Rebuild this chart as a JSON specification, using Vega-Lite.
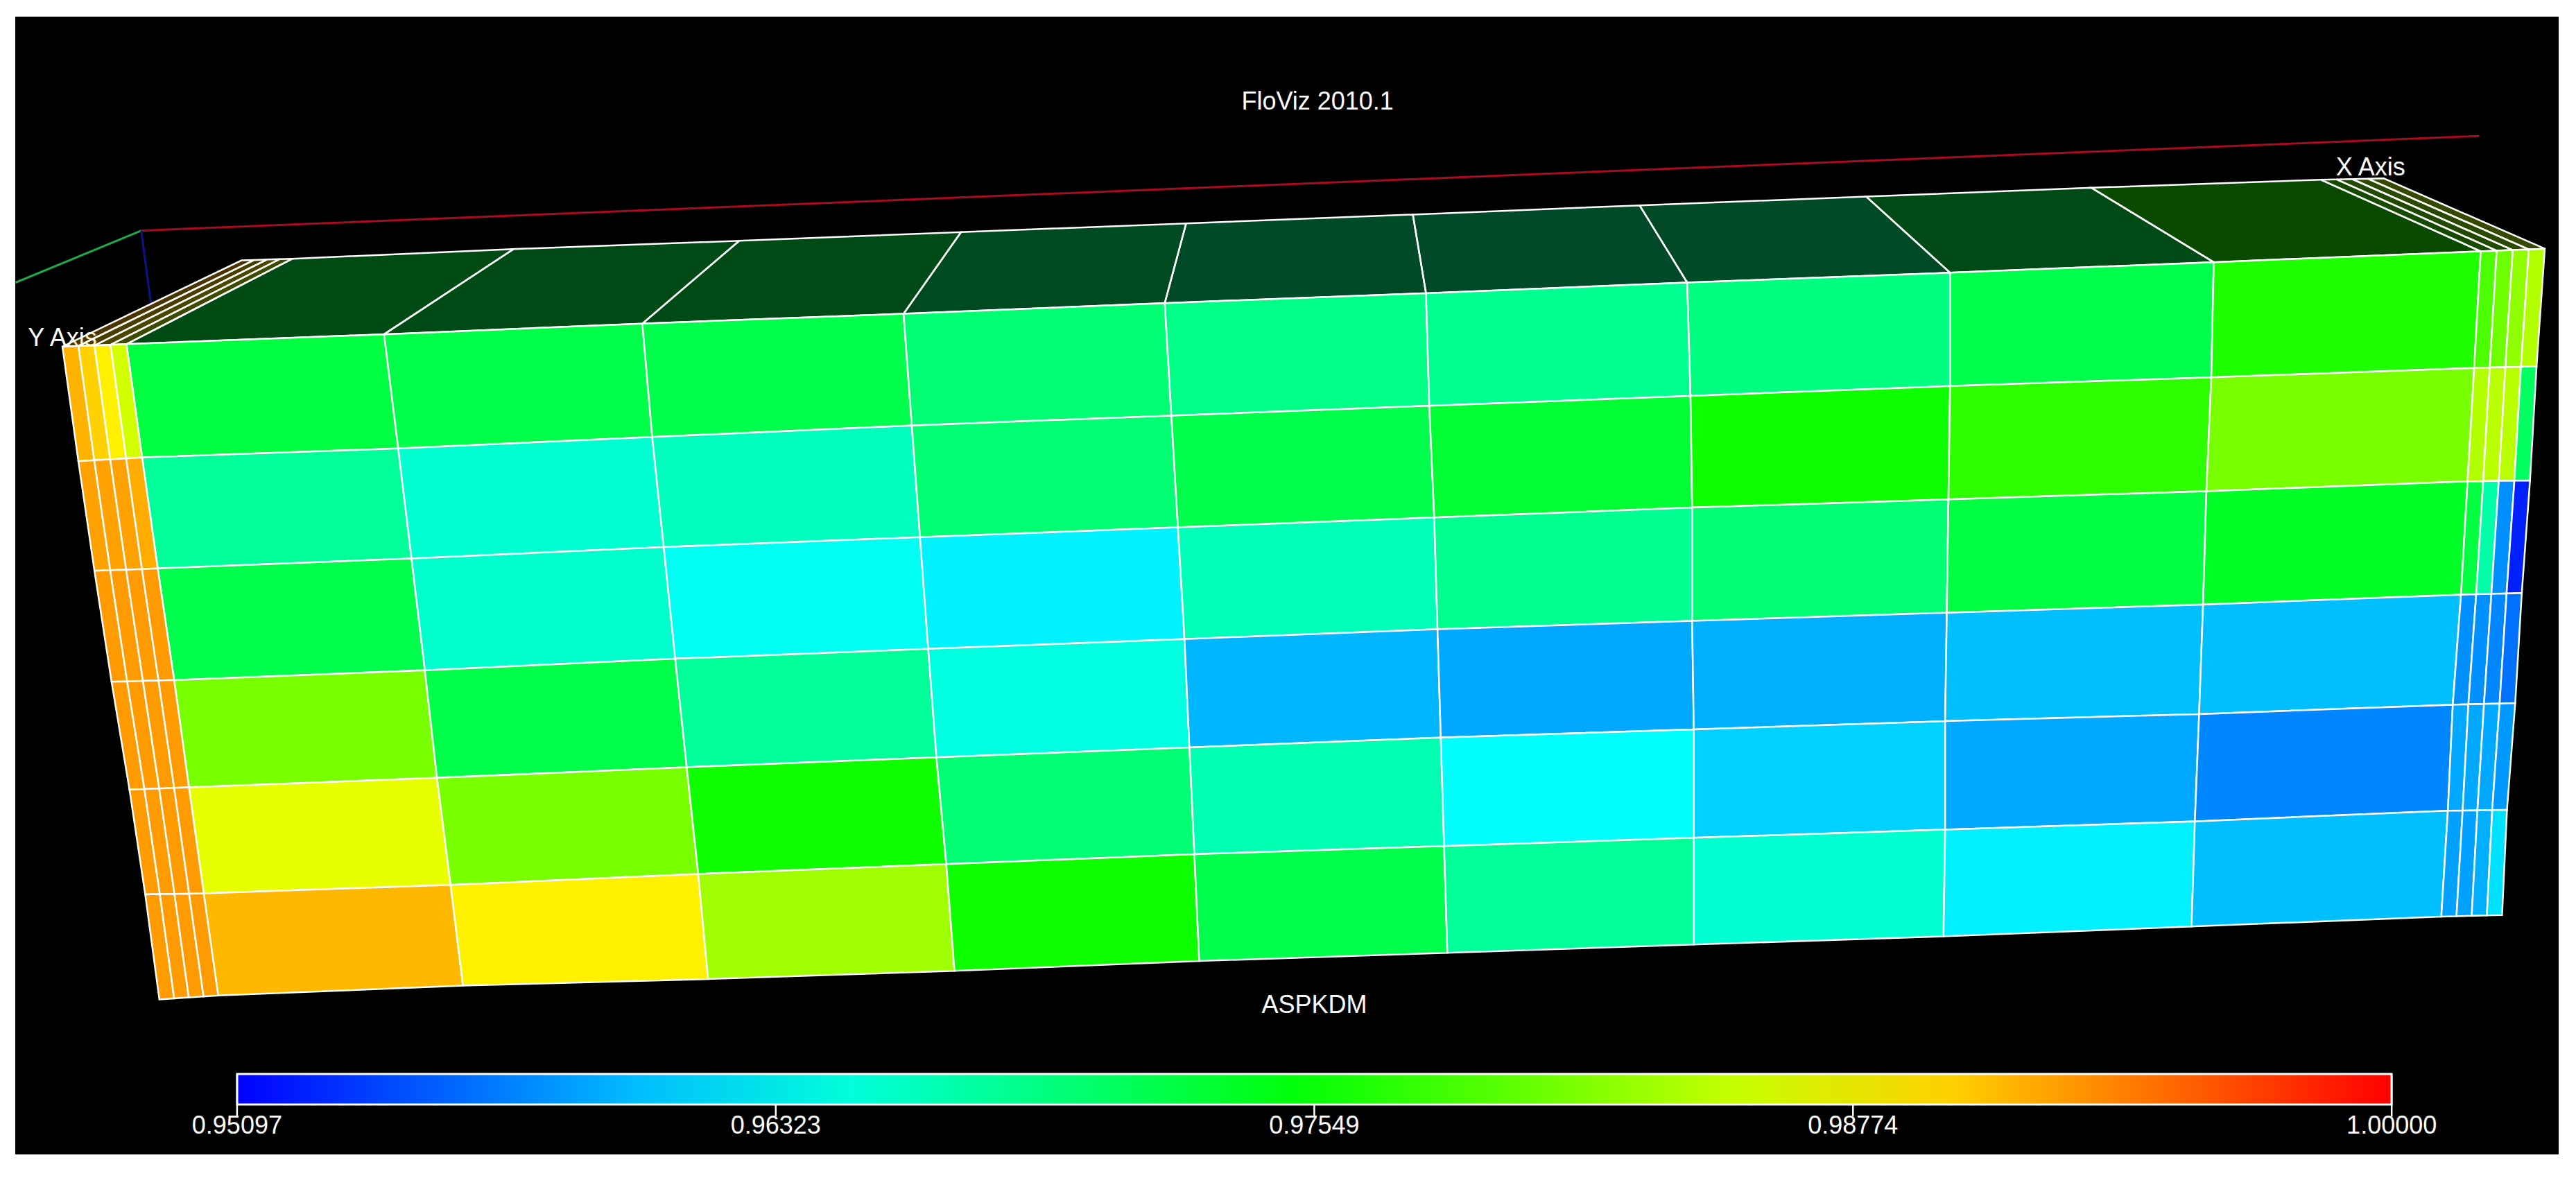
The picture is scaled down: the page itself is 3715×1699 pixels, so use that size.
{
"$schema":"https://vega.github.io/schema/vega-lite/v6.json",
"background":"white",
"width":3668,"height":1641,
"autosize":"none",
"padding":{"left":22,"top":24,"right":25,"bottom":34},
"view":{"fill":"#000000","stroke":null},
"config":{"legend":{"padding":0}},
"projection":{"type":"identity","scale":2.36926,"translate":[-22,-24]},
"datasets":{
"axes":[
{"type":"Feature","axis":"x","geometry":{"type":"LineString","coordinates":[[86,140.4],[1509,82.8]]}},
{"type":"Feature","axis":"y","geometry":{"type":"LineString","coordinates":[[9.5,172],[86,140.4]]}},
{"type":"Feature","axis":"z","geometry":{"type":"LineString","coordinates":[[86,140.4],[92,186]]}}
],
"labels":[
{"label":"FloViz 2010.1","x":802,"y":62},
{"label":"X Axis","x":1443,"y":102},
{"label":"Y Axis","x":38,"y":206},
{"label":"ASPKDM","x":800,"y":612},
{"label":"0.95097","x":144.3,"y":685.5},
{"label":"0.96323","x":472.2,"y":685.5},
{"label":"0.97549","x":800,"y":685.5},
{"label":"0.98774","x":1127.9,"y":685.5},
{"label":"1.00000","x":1455.8,"y":685.5}
],
"ticks":[
{"type":"Feature","value":0.95097,"geometry":{"type":"LineString","coordinates":[[144.3,653.8],[144.3,679.6]]}},
{"type":"Feature","value":0.96323,"geometry":{"type":"LineString","coordinates":[[472.2,653.8],[472.2,679.6]]}},
{"type":"Feature","value":0.97549,"geometry":{"type":"LineString","coordinates":[[800,653.8],[800,679.6]]}},
{"type":"Feature","value":0.98774,"geometry":{"type":"LineString","coordinates":[[1127.9,653.8],[1127.9,679.6]]}},
{"type":"Feature","value":1.0,"geometry":{"type":"LineString","coordinates":[[1455.8,653.8],[1455.8,679.6]]}}
],
"top":[
{"type":"Feature","value":0.99142,"geometry":{"type":"Polygon","coordinates":[[[147,158.5],[154.75,158.25],[47.75,210.6],[38,211],[147,158.5]]]}},
{"type":"Feature","value":0.98995,"geometry":{"type":"Polygon","coordinates":[[[154.75,158.25],[162.5,158],[57.5,210.3],[47.75,210.6],[154.75,158.25]]]}},
{"type":"Feature","value":0.98848,"geometry":{"type":"Polygon","coordinates":[[[162.5,158],[170.25,157.75],[67.25,209.9],[57.5,210.3],[162.5,158]]]}},
{"type":"Feature","value":0.98554,"geometry":{"type":"Polygon","coordinates":[[[170.25,157.75],[178,157.5],[77,209.5],[67.25,209.9],[170.25,157.75]]]}},
{"type":"Feature","value":0.97242,"geometry":{"type":"Polygon","coordinates":[[[178,157.5],[312.6,151.6],[233.8,203.5],[77,209.5],[178,157.5]]]}},
{"type":"Feature","value":0.97205,"geometry":{"type":"Polygon","coordinates":[[[312.6,151.6],[450,146.6],[391,197],[233.8,203.5],[312.6,151.6]]]}},
{"type":"Feature","value":0.97181,"geometry":{"type":"Polygon","coordinates":[[[450,146.6],[585,141.3],[550,191],[391,197],[450,146.6]]]}},
{"type":"Feature","value":0.96997,"geometry":{"type":"Polygon","coordinates":[[[585,141.3],[722,136],[709,184.5],[550,191],[585,141.3]]]}},
{"type":"Feature","value":0.96899,"geometry":{"type":"Polygon","coordinates":[[[722,136],[860,130.6],[868,178.5],[709,184.5],[722,136]]]}},
{"type":"Feature","value":0.9685,"geometry":{"type":"Polygon","coordinates":[[[860,130.6],[998,125],[1027,172],[868,178.5],[860,130.6]]]}},
{"type":"Feature","value":0.96936,"geometry":{"type":"Polygon","coordinates":[[[998,125],[1136,119.7],[1187,166],[1027,172],[998,125]]]}},
{"type":"Feature","value":0.97181,"geometry":{"type":"Polygon","coordinates":[[[1136,119.7],[1273,114.3],[1347.5,159.6],[1187,166],[1136,119.7]]]}},
{"type":"Feature","value":0.97695,"geometry":{"type":"Polygon","coordinates":[[[1273,114.3],[1412.6,109.4],[1510,153],[1347.5,159.6],[1273,114.3]]]}},
{"type":"Feature","value":0.97916,"geometry":{"type":"Polygon","coordinates":[[[1412.6,109.4],[1422.2,109.2],[1519.75,152.6],[1510,153],[1412.6,109.4]]]}},
{"type":"Feature","value":0.98075,"geometry":{"type":"Polygon","coordinates":[[[1422.2,109.2],[1431.8,109],[1529.5,152.2],[1519.75,152.6],[1422.2,109.2]]]}},
{"type":"Feature","value":0.98235,"geometry":{"type":"Polygon","coordinates":[[[1431.8,109],[1441.4,108.8],[1539.25,151.8],[1529.5,152.2],[1431.8,109]]]}},
{"type":"Feature","value":0.98406,"geometry":{"type":"Polygon","coordinates":[[[1441.4,108.8],[1451,108.6],[1549,151.4],[1539.25,151.8],[1441.4,108.8]]]}}
],
"faces":[
{"type":"Feature","value":0.97242,"geometry":{"type":"Polygon","coordinates":[[[77,209.5],[233.8,203.5],[242.4,273],[86.5,278.5],[77,209.5]]]}},
{"type":"Feature","value":0.97205,"geometry":{"type":"Polygon","coordinates":[[[233.8,203.5],[391,197],[397,266],[242.4,273],[233.8,203.5]]]}},
{"type":"Feature","value":0.97181,"geometry":{"type":"Polygon","coordinates":[[[391,197],[550,191],[555,259],[397,266],[391,197]]]}},
{"type":"Feature","value":0.96997,"geometry":{"type":"Polygon","coordinates":[[[550,191],[709,184.5],[713,253],[555,259],[550,191]]]}},
{"type":"Feature","value":0.96899,"geometry":{"type":"Polygon","coordinates":[[[709,184.5],[868,178.5],[870,247],[713,253],[709,184.5]]]}},
{"type":"Feature","value":0.9685,"geometry":{"type":"Polygon","coordinates":[[[868,178.5],[1027,172],[1029,241],[870,247],[868,178.5]]]}},
{"type":"Feature","value":0.96936,"geometry":{"type":"Polygon","coordinates":[[[1027,172],[1187,166],[1187,235],[1029,241],[1027,172]]]}},
{"type":"Feature","value":0.97181,"geometry":{"type":"Polygon","coordinates":[[[1187,166],[1347.5,159.6],[1346,229.7],[1187,235],[1187,166]]]}},
{"type":"Feature","value":0.97695,"geometry":{"type":"Polygon","coordinates":[[[1347.5,159.6],[1510,153],[1506,224],[1346,229.7],[1347.5,159.6]]]}},
{"type":"Feature","value":0.96813,"geometry":{"type":"Polygon","coordinates":[[[86.5,278.5],[242.4,273],[250.5,340],[96,346],[86.5,278.5]]]}},
{"type":"Feature","value":0.96543,"geometry":{"type":"Polygon","coordinates":[[[242.4,273],[397,266],[404,333],[250.5,340],[242.4,273]]]}},
{"type":"Feature","value":0.96629,"geometry":{"type":"Polygon","coordinates":[[[397,266],[555,259],[560,327],[404,333],[397,266]]]}},
{"type":"Feature","value":0.96997,"geometry":{"type":"Polygon","coordinates":[[[555,259],[713,253],[717,321],[560,327],[555,259]]]}},
{"type":"Feature","value":0.97181,"geometry":{"type":"Polygon","coordinates":[[[713,253],[870,247],[873,315],[717,321],[713,253]]]}},
{"type":"Feature","value":0.97303,"geometry":{"type":"Polygon","coordinates":[[[870,247],[1029,241],[1030,309],[873,315],[870,247]]]}},
{"type":"Feature","value":0.9761,"geometry":{"type":"Polygon","coordinates":[[[1029,241],[1187,235],[1186,304],[1030,309],[1029,241]]]}},
{"type":"Feature","value":0.97769,"geometry":{"type":"Polygon","coordinates":[[[1187,235],[1346,229.7],[1343,299],[1186,304],[1187,235]]]}},
{"type":"Feature","value":0.98124,"geometry":{"type":"Polygon","coordinates":[[[1346,229.7],[1506,224],[1502,293],[1343,299],[1346,229.7]]]}},
{"type":"Feature","value":0.97181,"geometry":{"type":"Polygon","coordinates":[[[96,346],[250.5,340],[258.6,408],[106,414],[96,346]]]}},
{"type":"Feature","value":0.96568,"geometry":{"type":"Polygon","coordinates":[[[250.5,340],[404,333],[411,401],[258.6,408],[250.5,340]]]}},
{"type":"Feature","value":0.96384,"geometry":{"type":"Polygon","coordinates":[[[404,333],[560,327],[565,395],[411,401],[404,333]]]}},
{"type":"Feature","value":0.96261,"geometry":{"type":"Polygon","coordinates":[[[560,327],[717,321],[721,389],[565,395],[560,327]]]}},
{"type":"Feature","value":0.96666,"geometry":{"type":"Polygon","coordinates":[[[717,321],[873,315],[875,383],[721,389],[717,321]]]}},
{"type":"Feature","value":0.9685,"geometry":{"type":"Polygon","coordinates":[[[873,315],[1030,309],[1030,378],[875,383],[873,315]]]}},
{"type":"Feature","value":0.96997,"geometry":{"type":"Polygon","coordinates":[[[1030,309],[1186,304],[1185,373],[1030,378],[1030,309]]]}},
{"type":"Feature","value":0.97242,"geometry":{"type":"Polygon","coordinates":[[[1186,304],[1343,299],[1341,368],[1185,373],[1186,304]]]}},
{"type":"Feature","value":0.97365,"geometry":{"type":"Polygon","coordinates":[[[1343,299],[1502,293],[1498,362],[1341,368],[1343,299]]]}},
{"type":"Feature","value":0.98124,"geometry":{"type":"Polygon","coordinates":[[[106,414],[258.6,408],[266,473.5],[115,479.3],[106,414]]]}},
{"type":"Feature","value":0.97205,"geometry":{"type":"Polygon","coordinates":[[[258.6,408],[411,401],[418,467],[266,473.5],[258.6,408]]]}},
{"type":"Feature","value":0.96813,"geometry":{"type":"Polygon","coordinates":[[[411,401],[565,395],[570,461],[418,467],[411,401]]]}},
{"type":"Feature","value":0.9647,"geometry":{"type":"Polygon","coordinates":[[[565,395],[721,389],[724,455],[570,461],[565,395]]]}},
{"type":"Feature","value":0.95979,"geometry":{"type":"Polygon","coordinates":[[[721,389],[875,383],[877,449],[724,455],[721,389]]]}},
{"type":"Feature","value":0.95906,"geometry":{"type":"Polygon","coordinates":[[[875,383],[1030,378],[1031,444],[877,449],[875,383]]]}},
{"type":"Feature","value":0.95943,"geometry":{"type":"Polygon","coordinates":[[[1030,378],[1185,373],[1184,439],[1031,444],[1030,378]]]}},
{"type":"Feature","value":0.96016,"geometry":{"type":"Polygon","coordinates":[[[1185,373],[1341,368],[1338.6,434.7],[1184,439],[1185,373]]]}},
{"type":"Feature","value":0.96016,"geometry":{"type":"Polygon","coordinates":[[[1341,368],[1498,362],[1493,429],[1338.6,434.7],[1341,368]]]}},
{"type":"Feature","value":0.98664,"geometry":{"type":"Polygon","coordinates":[[[115,479.3],[266,473.5],[274.3,538.7],[124,543.8],[115,479.3]]]}},
{"type":"Feature","value":0.98124,"geometry":{"type":"Polygon","coordinates":[[[266,473.5],[418,467],[425,532],[274.3,538.7],[266,473.5]]]}},
{"type":"Feature","value":0.97622,"geometry":{"type":"Polygon","coordinates":[[[418,467],[570,461],[576,526],[425,532],[418,467]]]}},
{"type":"Feature","value":0.96997,"geometry":{"type":"Polygon","coordinates":[[[570,461],[724,455],[727,520],[576,526],[570,461]]]}},
{"type":"Feature","value":0.96703,"geometry":{"type":"Polygon","coordinates":[[[724,455],[877,449],[879,515],[727,520],[724,455]]]}},
{"type":"Feature","value":0.96323,"geometry":{"type":"Polygon","coordinates":[[[877,449],[1031,444],[1031,510],[879,515],[877,449]]]}},
{"type":"Feature","value":0.96102,"geometry":{"type":"Polygon","coordinates":[[[1031,444],[1184,439],[1184,505],[1031,510],[1031,444]]]}},
{"type":"Feature","value":0.95906,"geometry":{"type":"Polygon","coordinates":[[[1184,439],[1338.6,434.7],[1336,500],[1184,505],[1184,439]]]}},
{"type":"Feature","value":0.95747,"geometry":{"type":"Polygon","coordinates":[[[1338.6,434.7],[1493,429],[1490,493.5],[1336,500],[1338.6,434.7]]]}},
{"type":"Feature","value":0.99117,"geometry":{"type":"Polygon","coordinates":[[[124,543.8],[274.3,538.7],[281.8,600],[132.8,606],[124,543.8]]]}},
{"type":"Feature","value":0.98848,"geometry":{"type":"Polygon","coordinates":[[[274.3,538.7],[425,532],[431,596],[281.8,600],[274.3,538.7]]]}},
{"type":"Feature","value":0.9832,"geometry":{"type":"Polygon","coordinates":[[[425,532],[576,526],[581,591],[431,596],[425,532]]]}},
{"type":"Feature","value":0.9761,"geometry":{"type":"Polygon","coordinates":[[[576,526],[727,520],[730,585],[581,591],[576,526]]]}},
{"type":"Feature","value":0.97181,"geometry":{"type":"Polygon","coordinates":[[[727,520],[879,515],[881,580],[730,585],[727,520]]]}},
{"type":"Feature","value":0.96813,"geometry":{"type":"Polygon","coordinates":[[[879,515],[1031,510],[1031,575],[881,580],[879,515]]]}},
{"type":"Feature","value":0.96543,"geometry":{"type":"Polygon","coordinates":[[[1031,510],[1184,505],[1183,570],[1031,575],[1031,510]]]}},
{"type":"Feature","value":0.96249,"geometry":{"type":"Polygon","coordinates":[[[1184,505],[1336,500],[1334,564],[1183,570],[1184,505]]]}},
{"type":"Feature","value":0.96016,"geometry":{"type":"Polygon","coordinates":[[[1336,500],[1490,493.5],[1486,558],[1334,564],[1336,500]]]}},

{"type":"Feature","value":0.99142,"geometry":{"type":"Polygon","coordinates":[[[38,211],[47.75,210.6],[57.4,280.2],[47.7,280.8],[38,211]]]}},
{"type":"Feature","value":0.98995,"geometry":{"type":"Polygon","coordinates":[[[47.75,210.6],[57.5,210.3],[67.1,279.6],[57.4,280.2],[47.75,210.6]]]}},
{"type":"Feature","value":0.98848,"geometry":{"type":"Polygon","coordinates":[[[57.5,210.3],[67.25,209.9],[76.8,279.1],[67.1,279.6],[57.5,210.3]]]}},
{"type":"Feature","value":0.98554,"geometry":{"type":"Polygon","coordinates":[[[67.25,209.9],[77,209.5],[86.5,278.5],[76.8,279.1],[67.25,209.9]]]}},
{"type":"Feature","value":0.99228,"geometry":{"type":"Polygon","coordinates":[[[47.7,280.8],[57.4,280.2],[67.1,347.1],[57.5,347.5],[47.7,280.8]]]}},
{"type":"Feature","value":0.99228,"geometry":{"type":"Polygon","coordinates":[[[57.4,280.2],[67.1,279.6],[76.8,346.8],[67.1,347.1],[57.4,280.2]]]}},
{"type":"Feature","value":0.99228,"geometry":{"type":"Polygon","coordinates":[[[67.1,279.6],[76.8,279.1],[86.4,346.4],[76.8,346.8],[67.1,279.6]]]}},
{"type":"Feature","value":0.99179,"geometry":{"type":"Polygon","coordinates":[[[76.8,279.1],[86.5,278.5],[96,346],[86.4,346.4],[76.8,279.1]]]}},
{"type":"Feature","value":0.99253,"geometry":{"type":"Polygon","coordinates":[[[57.5,347.5],[67.1,347.1],[77.4,414.8],[67.9,415],[57.5,347.5]]]}},
{"type":"Feature","value":0.99253,"geometry":{"type":"Polygon","coordinates":[[[67.1,347.1],[76.8,346.8],[87,414.5],[77.4,414.8],[67.1,347.1]]]}},
{"type":"Feature","value":0.99253,"geometry":{"type":"Polygon","coordinates":[[[76.8,346.8],[86.4,346.4],[96.5,414.3],[87,414.5],[76.8,346.8]]]}},
{"type":"Feature","value":0.99253,"geometry":{"type":"Polygon","coordinates":[[[86.4,346.4],[96,346],[106,414],[96.5,414.3],[86.4,346.4]]]}},
{"type":"Feature","value":0.99253,"geometry":{"type":"Polygon","coordinates":[[[67.9,415],[77.4,414.8],[87.9,480.3],[78.8,480.6],[67.9,415]]]}},
{"type":"Feature","value":0.99253,"geometry":{"type":"Polygon","coordinates":[[[77.4,414.8],[87,414.5],[96.9,480],[87.9,480.3],[77.4,414.8]]]}},
{"type":"Feature","value":0.99253,"geometry":{"type":"Polygon","coordinates":[[[87,414.5],[96.5,414.3],[106,479.6],[96.9,480],[87,414.5]]]}},
{"type":"Feature","value":0.99253,"geometry":{"type":"Polygon","coordinates":[[[96.5,414.3],[106,414],[115,479.3],[106,479.6],[96.5,414.3]]]}},
{"type":"Feature","value":0.99253,"geometry":{"type":"Polygon","coordinates":[[[78.8,480.6],[87.9,480.3],[97.3,544.3],[88.4,544.5],[78.8,480.6]]]}},
{"type":"Feature","value":0.99253,"geometry":{"type":"Polygon","coordinates":[[[87.9,480.3],[96.9,480],[106.2,544.2],[97.3,544.3],[87.9,480.3]]]}},
{"type":"Feature","value":0.99253,"geometry":{"type":"Polygon","coordinates":[[[96.9,480],[106,479.6],[115.1,544],[106.2,544.2],[96.9,480]]]}},
{"type":"Feature","value":0.99253,"geometry":{"type":"Polygon","coordinates":[[[106,479.6],[115,479.3],[124,543.8],[115.1,544],[106,479.6]]]}},
{"type":"Feature","value":0.99253,"geometry":{"type":"Polygon","coordinates":[[[88.4,544.5],[97.3,544.3],[106,607.8],[97,608.4],[88.4,544.5]]]}},
{"type":"Feature","value":0.99253,"geometry":{"type":"Polygon","coordinates":[[[97.3,544.3],[106.2,544.2],[114.9,607.2],[106,607.8],[97.3,544.3]]]}},
{"type":"Feature","value":0.99253,"geometry":{"type":"Polygon","coordinates":[[[106.2,544.2],[115.1,544],[123.9,606.6],[114.9,607.2],[106.2,544.2]]]}},
{"type":"Feature","value":0.99253,"geometry":{"type":"Polygon","coordinates":[[[115.1,544],[124,543.8],[132.8,606],[123.9,606.6],[115.1,544]]]}},

{"type":"Feature","value":0.97916,"geometry":{"type":"Polygon","coordinates":[[[1510,153],[1519.75,152.6],[1515.5,223.75],[1506,224],[1510,153]]]}},
{"type":"Feature","value":0.98075,"geometry":{"type":"Polygon","coordinates":[[[1519.75,152.6],[1529.5,152.2],[1525,223.5],[1515.5,223.75],[1519.75,152.6]]]}},
{"type":"Feature","value":0.98235,"geometry":{"type":"Polygon","coordinates":[[[1529.5,152.2],[1539.25,151.8],[1534.5,223.25],[1525,223.5],[1529.5,152.2]]]}},
{"type":"Feature","value":0.98406,"geometry":{"type":"Polygon","coordinates":[[[1539.25,151.8],[1549,151.4],[1544,223],[1534.5,223.25],[1539.25,151.8]]]}},
{"type":"Feature","value":0.98406,"geometry":{"type":"Polygon","coordinates":[[[1506,224],[1515.5,223.75],[1511.5,292.9],[1502,293],[1506,224]]]}},
{"type":"Feature","value":0.98431,"geometry":{"type":"Polygon","coordinates":[[[1515.5,223.75],[1525,223.5],[1521,292.75],[1511.5,292.9],[1515.5,223.75]]]}},
{"type":"Feature","value":0.98431,"geometry":{"type":"Polygon","coordinates":[[[1525,223.5],[1534.5,223.25],[1530.5,292.6],[1521,292.75],[1525,223.5]]]}},
{"type":"Feature","value":0.97083,"geometry":{"type":"Polygon","coordinates":[[[1534.5,223.25],[1544,223],[1540,292.5],[1530.5,292.6],[1534.5,223.25]]]}},
{"type":"Feature","value":0.97242,"geometry":{"type":"Polygon","coordinates":[[[1502,293],[1511.5,292.9],[1507.25,361.75],[1498,362],[1502,293]]]}},
{"type":"Feature","value":0.96739,"geometry":{"type":"Polygon","coordinates":[[[1511.5,292.9],[1521,292.75],[1516.5,361.5],[1507.25,361.75],[1511.5,292.9]]]}},
{"type":"Feature","value":0.95783,"geometry":{"type":"Polygon","coordinates":[[[1521,292.75],[1530.5,292.6],[1525.75,361.25],[1516.5,361.5],[1521,292.75]]]}},
{"type":"Feature","value":0.95244,"geometry":{"type":"Polygon","coordinates":[[[1530.5,292.6],[1540,292.5],[1535,361],[1525.75,361.25],[1530.5,292.6]]]}},
{"type":"Feature","value":0.95796,"geometry":{"type":"Polygon","coordinates":[[[1498,362],[1507.25,361.75],[1502.5,428.75],[1493,429],[1498,362]]]}},
{"type":"Feature","value":0.95796,"geometry":{"type":"Polygon","coordinates":[[[1507.25,361.75],[1516.5,361.5],[1512,428.5],[1502.5,428.75],[1507.25,361.75]]]}},
{"type":"Feature","value":0.95747,"geometry":{"type":"Polygon","coordinates":[[[1516.5,361.5],[1525.75,361.25],[1521.5,428.25],[1512,428.5],[1516.5,361.5]]]}},
{"type":"Feature","value":0.95636,"geometry":{"type":"Polygon","coordinates":[[[1525.75,361.25],[1535,361],[1531,428],[1521.5,428.25],[1525.75,361.25]]]}},
{"type":"Feature","value":0.95906,"geometry":{"type":"Polygon","coordinates":[[[1493,429],[1502.5,428.75],[1499,493.4],[1490,493.5],[1493,429]]]}},
{"type":"Feature","value":0.95906,"geometry":{"type":"Polygon","coordinates":[[[1502.5,428.75],[1512,428.5],[1508,493.25],[1499,493.4],[1502.5,428.75]]]}},
{"type":"Feature","value":0.95906,"geometry":{"type":"Polygon","coordinates":[[[1512,428.5],[1521.5,428.25],[1517,493.1],[1508,493.25],[1512,428.5]]]}},
{"type":"Feature","value":0.95832,"geometry":{"type":"Polygon","coordinates":[[[1521.5,428.25],[1531,428],[1526,493],[1517,493.1],[1521.5,428.25]]]}},
{"type":"Feature","value":0.95869,"geometry":{"type":"Polygon","coordinates":[[[1490,493.5],[1499,493.4],[1495.25,557.75],[1486,558],[1490,493.5]]]}},
{"type":"Feature","value":0.95869,"geometry":{"type":"Polygon","coordinates":[[[1499,493.4],[1508,493.25],[1504.5,557.5],[1495.25,557.75],[1499,493.4]]]}},
{"type":"Feature","value":0.95943,"geometry":{"type":"Polygon","coordinates":[[[1508,493.25],[1517,493.1],[1513.75,557.25],[1504.5,557.5],[1508,493.25]]]}},
{"type":"Feature","value":0.96176,"geometry":{"type":"Polygon","coordinates":[[[1517,493.1],[1526,493],[1523,557],[1513.75,557.25],[1517,493.1]]]}}
]
},
"layer":[
{"data":{"name":"axes"},
 "mark":{"type":"geoshape","filled":false,"strokeWidth":3},
 "encoding":{"stroke":{"field":"axis","type":"nominal","legend":null,"scale":{"domain":["x","y","z"],"range":["#a80c20","#20a848","#10108c"]}}}},
{"data":{"name":"labels"},
 "mark":{"type":"text","color":"#ffffff","font":"Liberation Sans","fontSize":36,"align":"center","baseline":"middle"},
 "encoding":{"longitude":{"field":"x","type":"quantitative"},"latitude":{"field":"y","type":"quantitative"},"text":{"field":"label","type":"nominal"}}},
{"data":{"name":"top"},
 "mark":{"type":"geoshape","stroke":"#ffffff","strokeWidth":2.5,"fillOpacity":0.29,"strokeOpacity":1},
 "encoding":{"color":{"field":"value","type":"quantitative"}}},
{"data":{"name":"faces"},
 "mark":{"type":"geoshape","stroke":"#ffffff","strokeWidth":2.5},
 "encoding":{"color":{"field":"value","type":"quantitative",
   "scale":{"domain":[0.95097,0.96323,0.97549,0.98774,1.0],"range":["#0000ff","#00ffff","#00ff00","#ffff00","#ff0000"],"interpolate":"rgb"},
   "legend":{"title":null,"orient":"none","direction":"horizontal","legendX":320,"legendY":1525,"gradientLength":3107,"gradientThickness":44,"gradientStrokeColor":"#ffffff","gradientStrokeWidth":3,"values":[0.95097,0.96323,0.97549,0.98774,1.0],"labelExpr":"''","labelOverlap":false}}}},
{"data":{"name":"ticks"},
 "mark":{"type":"geoshape","filled":false,"stroke":"#ffffff","strokeWidth":2.5},
 "encoding":{}}
]
}
